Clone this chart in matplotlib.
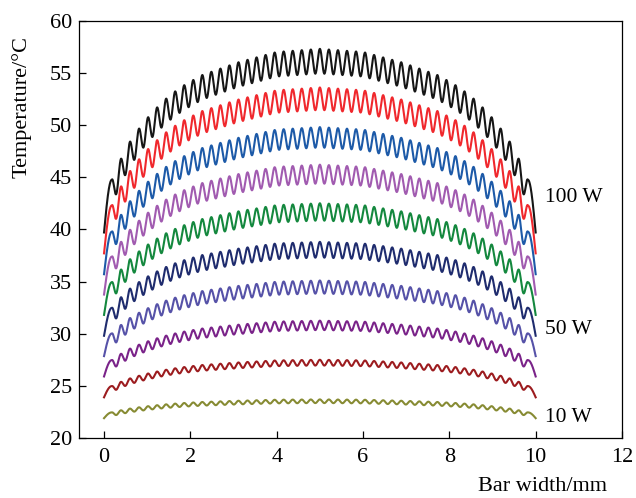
import numpy as np
import matplotlib
matplotlib.use('Agg')
import matplotlib.pyplot as plt

# ---- data ----
powers_w = [10, 20, 30, 40, 50, 60, 70, 80, 90, 100]
center_peak_c = [23.7, 27.5, 31.25, 35.1, 38.8, 42.5, 46.2, 49.8, 53.6, 57.3]
edge_c = [21.9, 23.9, 25.9, 27.85, 29.8, 31.8, 33.75, 35.7, 37.7, 39.7]
ripple_c = [0.35, 0.55, 0.9, 1.25, 1.5, 1.65, 1.8, 1.95, 2.15, 2.35]
colors = ['#878b33', '#9c1c1f', '#7a2389', '#5652a8', '#1f2c6e',
          '#14883e', '#a15bb0', '#1d5aa8', '#f0282d', '#161616']
# peak envelope of the 100 W curve (left half, symmetric)
profile_x_mm = [0.18, 0.39, 0.6, 0.8, 1.01, 1.22, 1.43, 1.64, 1.85, 2.06, 2.28, 3.1, 4.0, 5.0]
profile_peak_100w_c = [44.75, 46.75, 48.4, 49.6, 50.7, 51.65, 52.5, 53.2, 53.8, 54.3, 54.8, 56.0, 57.0, 57.3]
n_emitters = 47
first_emitter_mm = 0.18
bar_width_mm = 10.0
heatsink_c = 20.0
label_texts = ['100 W', '50 W', '10 W']
label_y = [43.1, 30.4, 22.0]
xticks = [0, 2, 4, 6, 8, 10, 12]
yticks = [20, 25, 30, 35, 40, 45, 50, 55, 60]

plt.rcParams['font.family'] = ['Liberation Serif', 'DejaVu Serif']
plt.rcParams['mathtext.fontset'] = 'stix'

fig = plt.figure(figsize=(6.36, 4.98), dpi=100)
ax = fig.add_axes([79/636, 1 - 438/498, (622 - 79)/636, (438 - 20.7)/498])

px = np.array(profile_x_mm)
pv = np.array(profile_peak_100w_c)
px_full = np.concatenate([px, bar_width_mm - px[::-1][1:]])
pv_full = np.concatenate([pv, pv[::-1][1:]])
shape_full = (pv_full - heatsink_c) / (pv[-1] - heatsink_c)

last_emitter_mm = bar_width_mm - first_emitter_mm
pitch = (last_emitter_mm - first_emitter_mm) / (n_emitters - 1)
xs = np.linspace(0, bar_width_mm, 5000)

for P, cp, ed, A, c in zip(powers_w, center_peak_c, edge_c, ripple_c, colors):
    env = heatsink_c + (cp - heatsink_c) * np.interp(xs, px_full, shape_full)
    mod = (1 - np.cos(2 * np.pi * (xs - first_emitter_mm) / pitch)) / 2
    T = env - A * mod
    env1 = heatsink_c + (cp - heatsink_c) * shape_full[0]
    lm = xs < first_emitter_mm
    T[lm] = ed + (env1 - ed) * np.sin(np.pi / 2 * xs[lm] / first_emitter_mm)
    rm = xs > last_emitter_mm
    d = bar_width_mm - xs[rm]
    T[rm] = ed + (env1 - ed) * np.sin(np.pi / 2 * d / first_emitter_mm)
    ax.plot(xs, T, color=c, lw=1.5)

ax.set_xlim(-0.58, 12)
ax.set_ylim(20, 60)
ax.set_xticks(xticks)
ax.set_yticks(yticks)
ax.tick_params(direction='in', length=5, width=0.9, labelsize=16, top=False, right=False)
ax.tick_params(axis='y', pad=5)
ax.tick_params(axis='x', pad=7)
for s in ax.spines.values():
    s.set_linewidth(0.9)

for t, y in zip(label_texts, label_y):
    ax.text(10.22, y, t, fontsize=15.5, ha='left', va='center')

fig.text(22/636, 1 - 107/498, 'Temperature/°C', rotation=90, ha='center', va='center', fontsize=16)
fig.text(607/636, 1 - 486/498, 'Bar width/mm', ha='right', va='center', fontsize=16)

fig.savefig('out.png', dpi=100)
